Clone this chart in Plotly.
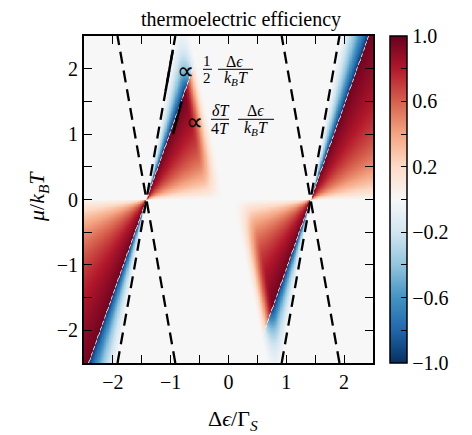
import numpy as np
import plotly.graph_objects as go

# ---------------- values ----------------
x_range = [-2.5, 2.5]
y_range = [-2.5, 2.5]
axis_tick_vals = [-2.0, -1.5, -1.0, -0.5, 0.0, 0.5, 1.0, 1.5, 2.0]
axis_tick_text = ["\u22122", "", "\u22121", "", "0", "", "1", "", "2"]
cbar_tick_vals = [-1.0, -0.8, -0.6, -0.4, -0.2, 0.0, 0.2, 0.4, 0.6, 0.8, 1.0]
cbar_tick_text = ["\u22121.0", "", "\u22120.6", "", "\u22120.2", "", "0.2", "", "0.6", "", "1.0"]

crossing_x = [-1.42, 1.42]        # sign-change points on mu = 0
sign_slope = 2.5                  # red/blue boundary (∝ δT/4T Δϵ/kBT)
dashed_slopes = [5.0, -5.0]       # dashed guides (∝ 1/2 Δϵ/kBT)
lobe_cut_slope = -4.1             # white edge of the finite lobes
lobe_cut_offset = 0.04
lobe_fade_width = 0.35
red_decay = 1.6
blue_power = 1.3
peak_value = 0.97
seam_width = 0.012                # thin light seam on the sign change

guide_half_x = [-0.962, -1.086]   # solid segment of the "∝ 1/2" guide
guide_half_y = [2.29, 1.67]
guide_dT_x = [-0.81, -0.96]       # solid segment of the "∝ δT/4T" guide
guide_dT_y = [1.50, 1.00]

n_grid = 420
xs = np.linspace(x_range[0], x_range[1], n_grid)
ys = np.linspace(y_range[0], y_range[1], n_grid)
XX, YY = np.meshgrid(xs, ys)


def branch(x, y):
    c = crossing_x[1]
    X = x - c
    t = X / y
    t0 = 1.0 / sign_slope
    tb = 1.0 / dashed_slopes[0]
    red = peak_value / (1.0 + (t - t0) / red_decay)
    blue = -peak_value * np.clip((t - tb) / (t0 - tb), 0, 1) ** blue_power
    z = np.where(t > t0, red, np.where(t > tb, blue, 0.0))
    seam = np.clip(np.abs(X - y * t0) / seam_width, 0, 1)
    z = z * (0.25 + 0.75 * seam)
    edge = y / lobe_cut_slope + lobe_cut_offset
    s = np.clip((x - edge) / lobe_fade_width, 0, 1)
    s = s * s * (3 - 2 * s)
    return np.where(y < 0, z * s, z)


Z = branch(XX, YY) + branch(-XX, -YY)

rdbu_r = [[0.0, "#053061"], [0.1, "#2166ac"], [0.2, "#4393c3"], [0.3, "#92c5de"],
          [0.4, "#d1e5f0"], [0.5, "#f7f7f7"], [0.6, "#fddbc7"], [0.7, "#f4a582"],
          [0.8, "#d6604d"], [0.9, "#b2182b"], [1.0, "#67001f"]]

# page body has an 8px margin: work in page pixels, then convert
OFF = 8
W, H = 472 - OFF, 435 - OFF
L, R, T, B = 84, 373, 36, 363          # plot area in page pixels

SERIF = "Liberation Serif"
fig = go.Figure()
fig.add_trace(go.Heatmap(
    x=xs, y=ys, z=Z, zmin=-1, zmax=1, colorscale=rdbu_r,
    colorbar=dict(x=(390 - L) / (R - L), xanchor="left", y=0.5, yanchor="middle", len=1.0,
                  lenmode="fraction", thickness=17, outlinewidth=1.5,
                  outlinecolor="black", ticks="inside", ticklen=6, tickwidth=1.2,
                  tickcolor="black", tickvals=cbar_tick_vals, ticktext=cbar_tick_text,
                  tickfont=dict(family=SERIF, size=20, color="black"), ypad=0, xpad=0),
    hoverinfo="skip"))

y_ends = np.array(y_range)
for c in crossing_x:
    for s in dashed_slopes:
        fig.add_trace(go.Scatter(x=c + y_ends / s, y=y_ends, mode="lines",
                                 line=dict(color="black", width=2.3, dash="12px,7px"),
                                 showlegend=False, hoverinfo="skip"))
for gx, gy in [(guide_half_x, guide_half_y), (guide_dT_x, guide_dT_y)]:
    fig.add_trace(go.Scatter(x=gx, y=gy, mode="lines", line=dict(color="black", width=2.5),
                             showlegend=False, hoverinfo="skip"))

ax = dict(range=x_range, showgrid=False, zeroline=False, showline=True, linewidth=2,
          linecolor="black", mirror="ticks", ticks="inside", ticklen=8, tickwidth=1.3,
          tickcolor="black", tickvals=axis_tick_vals, ticktext=axis_tick_text,
          tickfont=dict(family=SERIF, size=20, color="black"))
fig.update_xaxes(**ax)
fig.update_yaxes(**dict(ax, range=y_range))


def px(xp, yp):
    return (xp - L) / (R - L), (B - yp) / (B - T)


anns = []


def txt(text, xp, yp, size, xanchor="center"):
    xx, yy = px(xp, yp)
    anns.append(dict(text=text, x=xx, y=yy, xref="paper", yref="paper", showarrow=False,
                     xanchor=xanchor, yanchor="middle",
                     font=dict(family=SERIF, size=size, color="black")))


shapes = []


def bar(x0, x1, yp):
    a0, b0 = px(x0, yp)
    a1, _ = px(x1, yp)
    shapes.append(dict(type="line", xref="paper", yref="paper", x0=a0, x1=a1, y0=b0, y1=b0,
                       line=dict(color="black", width=1)))


# "∝ 1/2 Δϵ/kBT"
txt("\u221d", 185.5, 70.5, 24)
txt("1", 207.3, 61.5, 15)
txt("2", 207.3, 78, 15)
bar(203, 212, 69.3)
txt("\u0394<i>\u03f5</i>", 234, 61, 16)
txt("<i>k</i><sub><i>B</i></sub><i>T</i>", 235.5, 78.5, 16)
bar(218, 253, 69.3)
# "∝ δT/4T Δϵ/kBT"
txt("\u221d", 194, 122, 24)
txt("<i>\u03b4T</i>", 220, 111, 16)
txt("4<i>T</i>", 220, 128, 16)
bar(211, 229, 119.3)
txt("\u0394<i>\u03f5</i>", 255, 111, 16)
txt("<i>k</i><sub><i>B</i></sub><i>T</i>", 256, 128.5, 16)
bar(238, 274, 119.3)

# titles
txt("thermoelectric efficiency", 241, 19, 20)
txt("\u0394<i>\u03f5</i>/\u0393<sub><i>S</i></sub>", 233, 420, 22)
xx, yy = px(38, 197)
anns.append(dict(text="<i>\u03bc</i>/<i>k</i><sub><i>B</i></sub><i>T</i>", x=xx, y=yy,
                 xref="paper", yref="paper", showarrow=False, textangle=-90,
                 xanchor="center", yanchor="middle",
                 font=dict(family=SERIF, size=22, color="black")))

fig.update_layout(width=W, height=H,
                  margin=dict(l=L - OFF, r=W - (R - OFF), t=T - OFF, b=H - (B - OFF)),
                  paper_bgcolor="white", plot_bgcolor="white", showlegend=False,
                  annotations=anns, shapes=shapes)
fig.write_html("out.html")
